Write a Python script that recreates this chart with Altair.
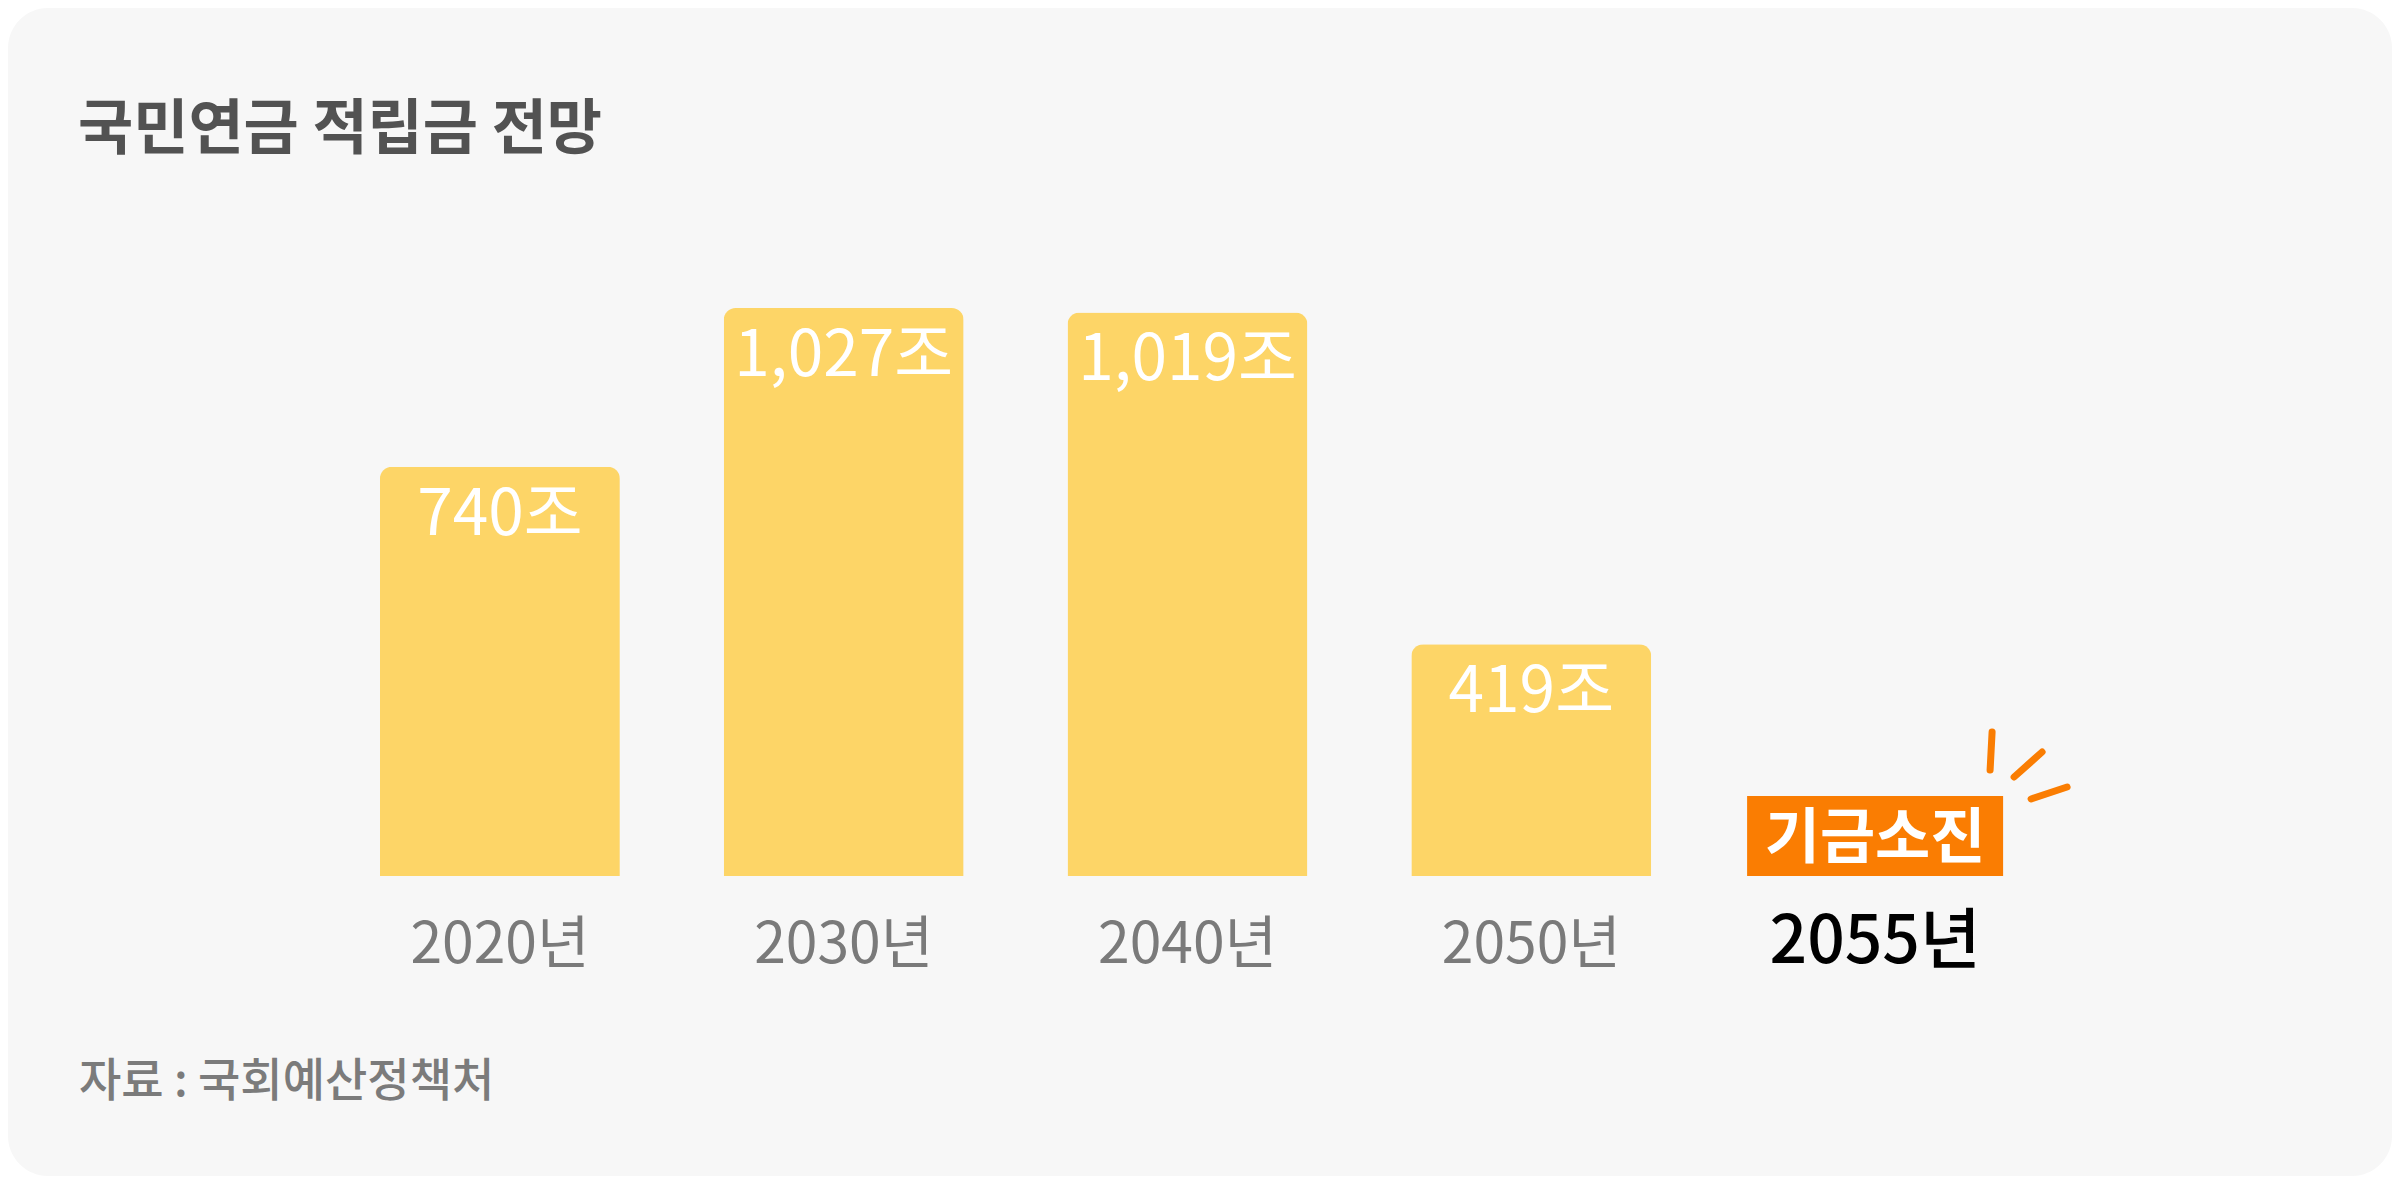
import altair as alt
import pandas as pd

# ---- data ----
years = ["2020년", "2030년", "2040년", "2050년", "2055년"]
values = [740, 1027, 1019, 419]            # 적립금 (조원)
value_labels = ["740조", "1,027조", "1,019조", "419조"]
badge_text = "기금소진"
title_text = "국민연금 적립금 전망"
source_text = "자료 : 국회예산정책처"

# ---- layout / style ----
W, H = 2384, 1168
BASE = 868
PX_PER_UNIT = 0.553
YMAX = BASE / PX_PER_UNIT
BADGE_PX = 80
BADGE_UNITS = BADGE_PX / PX_PER_UNIT
FONT = "Noto Sans CJK KR"
BAR_COLOR = "#FDD567"
ORANGE = "#FA7D02"

bars_df = pd.DataFrame({"year": years[:4], "value": values, "label": value_labels})
axis_df = pd.DataFrame({"year": years[:4]})
last_df = pd.DataFrame({"year": [years[4]], "badge": [badge_text]})
one = pd.DataFrame({"a": [0]})

x_scale = alt.Scale(domain=years, range=[320, 2039], paddingInner=0.302, paddingOuter=0.151)
y_scale = alt.Scale(domain=[0, YMAX], range=[BASE, 0], nice=False, zero=True)

X = alt.X("year:N", scale=x_scale, axis=None, sort=years)

bg = alt.Chart(one).mark_rect(fill="#F7F7F7", cornerRadius=40).encode(
    x=alt.value(0), x2=alt.value(W), y=alt.value(0), y2=alt.value(H)
)

title = alt.Chart(one).mark_text(
    text=title_text, font=FONT, fontSize=60, fontWeight=700, color="#525252",
    align="left", baseline="alphabetic"
).encode(x=alt.value(70), y=alt.value(141))

source = alt.Chart(one).mark_text(
    text=source_text, font=FONT, fontSize=46, fontWeight=500, color="#7B7B7B",
    align="left", baseline="alphabetic"
).encode(x=alt.value(71), y=alt.value(1088))

bars = alt.Chart(bars_df).mark_bar(
    color=BAR_COLOR, cornerRadiusTopLeft=12, cornerRadiusTopRight=12
).encode(x=X, y=alt.Y("value:Q", scale=y_scale, axis=None))

bar_labels = alt.Chart(bars_df).mark_text(
    font=FONT, fontSize=64, color="white", baseline="alphabetic", dy=68
).encode(x=X, y=alt.Y("value:Q", scale=y_scale, axis=None), text="label:N")

axis_labels = alt.Chart(axis_df).mark_text(
    font=FONT, fontSize=57, color="#7A7A7A", baseline="alphabetic", dy=87
).encode(x=X, y=alt.datum(0, scale=y_scale), text="year:N")

last_label = alt.Chart(last_df).mark_text(
    font=FONT, fontSize=66, fontWeight=500, color="#000000", baseline="alphabetic", dy=87
).encode(x=X, y=alt.datum(0, scale=y_scale), text="year:N")

badge = alt.Chart(last_df).mark_bar(color=ORANGE, width=256, cornerRadius=0).encode(
    x=X, y=alt.datum(0, scale=y_scale), y2=alt.datum(BADGE_UNITS)
)

badge_label = alt.Chart(last_df).mark_text(
    font=FONT, fontSize=60, fontWeight=700, color="white", baseline="middle", dy=4
).encode(x=X, y=alt.datum(BADGE_UNITS / 2, scale=y_scale), text="badge:N")

sparks = alt.Chart(last_df).mark_point(
    shape="M117,-64L115,-26M167,-44L139,-19M192,-9L156,3",
    size=4, filled=False, stroke=ORANGE, strokeWidth=7, strokeCap="round", opacity=1
).encode(x=X, y=alt.datum(BADGE_UNITS, scale=y_scale))

chart = alt.layer(
    bg, title, source, bars, bar_labels, axis_labels, last_label, badge, badge_label, sparks
).properties(
    width=W, height=H, padding=0, background="white"
).configure_view(stroke=None)

chart.save("out.html", embed_options={"renderer": "svg", "actions": False})
